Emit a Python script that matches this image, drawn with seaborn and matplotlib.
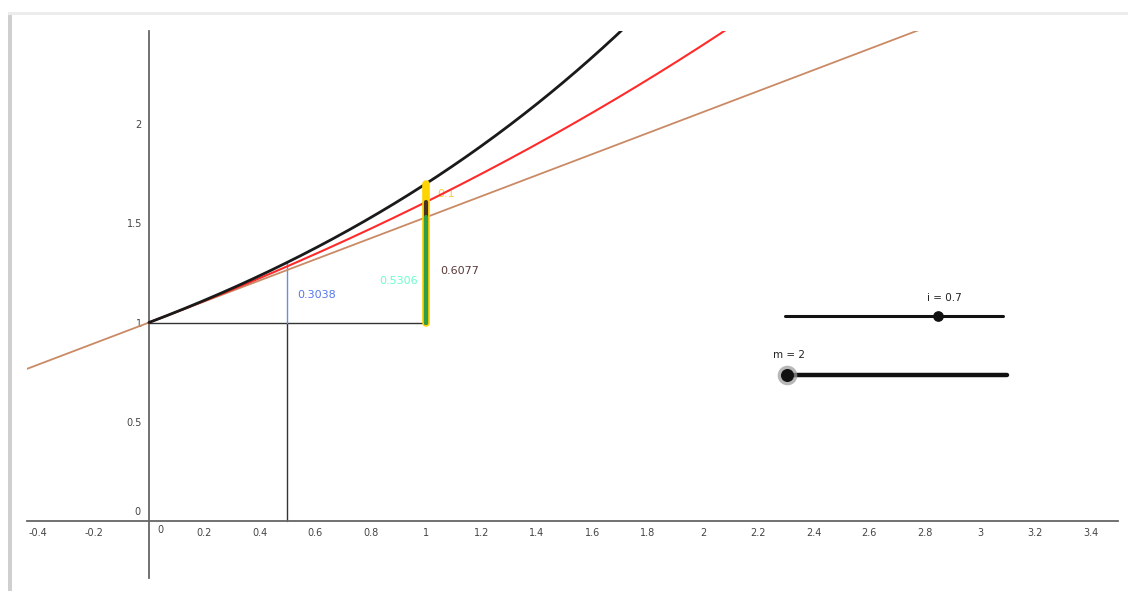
import numpy as np
import matplotlib
matplotlib.use("Agg")
import matplotlib.pyplot as plt
import seaborn as sns
from matplotlib.patches import Rectangle

# slider values
i_rate = 0.7
m_periods = 2

# x tick positions / labels (0 is written by hand next to the axis)
x_ticks = [-0.4, -0.2, 0.2, 0.4, 0.6, 0.8, 1, 1.2, 1.4, 1.6, 1.8, 2, 2.2, 2.4, 2.6, 2.8, 3, 3.2, 3.4]
x_tick_labels = ['-0.4', '-0.2', '0.2', '0.4', '0.6', '0.8', '1', '1.2', '1.4', '1.6', '1.8',
                 '2', '2.2', '2.4', '2.6', '2.8', '3', '3.2', '3.4']
y_ticks = [0.5, 1, 1.5, 2]
y_tick_labels = ['0.5', '1', '1.5', '2']

# segment lengths shown as labels
half_gain = 0.3038     # (1+i)^0.5 - 1
tangent_gain = 0.5306  # ln(1+i)
m_gain = 0.6077        # m((1+i)^(1/m) - 1)
diff_label = '0.1'

sns.set_theme(style="white")
plt.rcParams['font.family'] = ['DejaVu Sans']

fig = plt.figure(figsize=(11.28, 5.91), dpi=100)
fig.patch.set_facecolor('white')

# screenshot frame shadow
fig.patches.append(Rectangle((8 / 1128, 0), 4 / 1128, 1 - 13 / 591, transform=fig.transFigure,
                             facecolor='#cfcfcf', edgecolor='none', zorder=0))
fig.patches.append(Rectangle((8 / 1128, 1 - 15 / 591), 1, 3 / 591, transform=fig.transFigure,
                             facecolor='#ececec', edgecolor='none', zorder=0))

ax = fig.add_axes([27 / 1128, 13 / 591, 1091 / 1128, 547 / 591])
ax.set_facecolor('none')
ax.set_xlim(-0.440, 3.498)
ax.set_ylim(-0.288, 2.470)

base = 1 + i_rate
x_all = np.linspace(-0.44, 3.5, 600)
x_pos = np.linspace(0, 3.5, 600)
curve_exact = base ** x_pos
curve_m = 1 + m_periods * (base ** (x_pos / m_periods) - 1)
curve_tan = 1 + np.log(base) * x_all

sns.lineplot(x=x_all, y=curve_tan, ax=ax, color='#c98a65', linewidth=1.3, zorder=3)
sns.lineplot(x=x_pos, y=curve_m, ax=ax, color='#ff2a2a', linewidth=1.5, zorder=4)
sns.lineplot(x=x_pos, y=curve_exact, ax=ax, color='#1a1a1a', linewidth=2.0, zorder=5)

# construction lines
ax.plot([0, 1], [1, 1], color='#333333', linewidth=1.0, zorder=2)
ax.plot([0.5, 0.5], [0, 1], color='#333333', linewidth=1.0, zorder=2)
ax.plot([0.5, 0.5], [1, 1 + half_gain], color='#6a8cf0', linewidth=1.0, zorder=2)

# stacked segments at x = 1
ax.plot([1, 1], [1, base], color='#ffd400', linewidth=5.5, solid_capstyle='round', zorder=6)
ax.plot([1, 1], [1, 1 + m_gain], color='#4a3322', linewidth=3.0, zorder=7)
ax.plot([1, 1], [1, 1 + tangent_gain], color='#2f9e48', linewidth=3.0, zorder=8)

ax.text(0.535, 1.14, f'{half_gain:.4f}', color='#5577ee', fontsize=8, va='center', ha='left')
ax.text(0.97, 1.207, f'{tangent_gain:.4f}', color='#66ffcc', fontsize=8, va='center', ha='right')
ax.text(1.05, 1.262, f'{m_gain:.4f}', color='#5a3a3a', fontsize=8, va='center', ha='left')
ax.text(1.04, 1.65, diff_label, color='#ffcc33', fontsize=8, va='center', ha='left')

# axes through the origin
for side in ['top', 'right']:
    ax.spines[side].set_visible(False)
ax.spines['left'].set_position(('data', 0))
ax.spines['bottom'].set_position(('data', 0))
for side in ['left', 'bottom']:
    ax.spines[side].set_color('#666666')
    ax.spines[side].set_linewidth(1.3)

ax.set_xticks(x_ticks)
ax.set_xticklabels(x_tick_labels)
ax.set_yticks(y_ticks)
ax.set_yticklabels(y_tick_labels)
ax.tick_params(axis='both', direction='out', length=3, width=0.8, color='#555555',
               labelsize=7, labelcolor='#444444', pad=2)
ax.text(0.03, -0.02, '0', fontsize=7, color='#444444', ha='left', va='top')
ax.text(-0.03, 0.02, '0', fontsize=7, color='#444444', ha='right', va='bottom')

# sliders
ax.plot([2.296, 3.083], [1.035, 1.035], color='#111111', linewidth=2.2, zorder=5)
ax.scatter([2.296 + i_rate * (3.083 - 2.296)], [1.035], s=45, color='#111111', zorder=6)
ax.text(2.87, 1.10, f'i = {i_rate}', fontsize=7.5, color='#222222', ha='center', va='bottom')

ax.plot([2.303, 3.097], [0.737, 0.737], color='#111111', linewidth=3.2, zorder=5)
ax.scatter([2.303], [0.737], s=200, color='#999999', alpha=0.7, zorder=6, linewidths=0)
ax.scatter([2.303], [0.737], s=70, color='#111111', zorder=7)
ax.text(2.31, 0.81, f'm = {m_periods}', fontsize=7.5, color='#222222', ha='center', va='bottom')

fig.savefig('out.png', dpi=100, facecolor='white')
